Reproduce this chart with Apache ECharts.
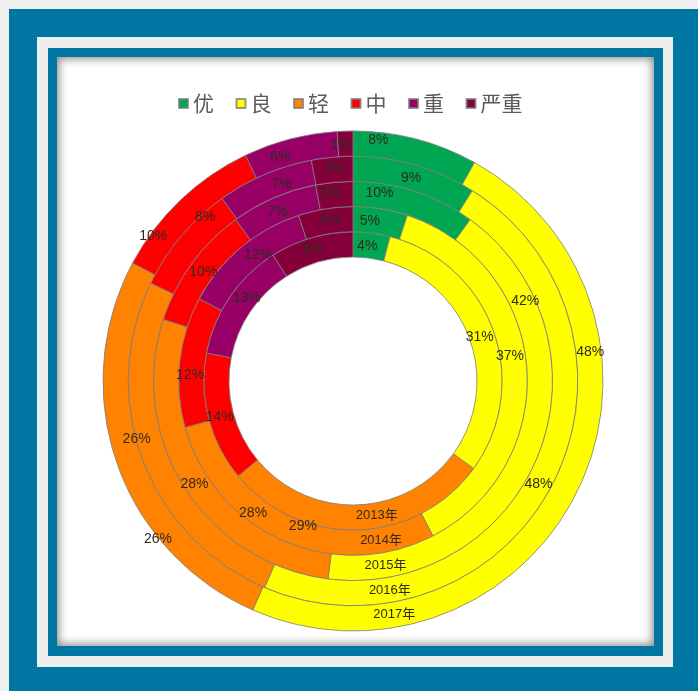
<!DOCTYPE html>
<html>
<head>
<meta charset="utf-8">
<script src="https://cdn.jsdelivr.net/npm/echarts@6/dist/echarts.min.js"></script>
<style>
  html, body { margin: 0; padding: 0; }
  body { width: 698px; height: 691px; background: #f0f0f0; position: relative; overflow: hidden; }
  .box { position: absolute; box-sizing: border-box; }
  #outer { left: 9px; top: 9px; right: 0; bottom: 0; background: #0076a3; }
  #strip { left: 37px; top: 37px; width: 636px; height: 630px; background: #eeeeee; }
  #inner { left: 48px; top: 48px; width: 615px; height: 608px; background: #0076a3; }
  #panel { left: 57px; top: 57px; width: 597px; height: 589px; background: #ffffff;
           box-shadow: inset 0 0 9px 2px rgba(0,0,0,0.45); }
  #chart { position: absolute; left: 0; top: 0; width: 698px; height: 691px; }
</style>
</head>
<body>
<div class="box" id="outer"></div>
<div class="box" id="strip"></div>
<div class="box" id="inner"></div>
<div class="box" id="panel"></div>
<div id="chart"></div>
<script>
// Air quality grade shares by year (percent of days)
const grades = ['优', '良', '轻', '中', '重', '严重'];
const years = ['2013年', '2014年', '2015年', '2016年', '2017年'];
const share2013 = [4, 31, 29, 14, 13, 9];
const share2014 = [5, 37, 28, 12, 12, 5];
const share2015 = [10, 42, 28, 10, 7, 3];
const share2016 = [9, 48, 26, 8, 7, 3];
const share2017 = [8, 48, 26, 10, 6, 1];
const gradeColors = ['#00a651', '#ffff00', '#ff8200', '#ff0000', '#990066', '#85003a'];

const shares = [share2013, share2014, share2015, share2016, share2017];

// ring geometry: 2013 innermost, 2017 outermost
const cx = 353, cy = 381;
const rInner = 124, ringW = 25.2;
const yearLabelAngle = 170; // degrees clockwise from 12 o'clock

// hand-placed value labels: [angle clockwise from 12 o'clock, distance from centre]
const labelPlacement = [
  [[6, 136], [71, 134], [199, 154], [255, 138], [308, 135], [343, 138]],
  [[6, 161], [81, 159], [217, 166], [272, 163], [323, 158], [352, 162]],
  [[8, 190], [65, 190], [237, 189], [306, 185], [336, 185], [353, 189]],
  [[16, 211], [119, 212], [255, 224], [318, 221], [340, 209], [355, 214]],
  [[6, 242], [83, 239], [231, 251], [306, 247], [342, 235], [357, 236]]
];

const chart = echarts.init(document.getElementById('chart'), null, { renderer: 'canvas' });

const series = shares.map((vals, i) => ({
  type: 'pie',
  name: years[i],
  center: [cx, cy],
  radius: [rInner + i * ringW, rInner + (i + 1) * ringW],
  startAngle: 90,
  clockwise: true,
  avoidLabelOverlap: false,
  animation: false,
  silent: true,
  label: { show: false },
  labelLine: { show: false },
  itemStyle: { borderColor: 'rgba(125,125,125,0.8)', borderWidth: 1 },
  data: grades.map((g, k) => ({ name: g, value: vals[k], itemStyle: { color: gradeColors[k] } }))
}));

function polar(angleDeg, r) {
  const a = angleDeg * Math.PI / 180;
  return [cx + r * Math.sin(a), cy - r * Math.cos(a)];
}

const textFont = 'Liberation Sans, Arial, sans-serif';
const graphics = [];

shares.forEach((vals, i) => {
  vals.forEach((v, k) => {
    const p = polar(labelPlacement[i][k][0], labelPlacement[i][k][1]);
    graphics.push({
      type: 'text', x: p[0], y: p[1], z: 100, silent: true,
      style: { text: v + '%', fill: '#2e2a1e', fontSize: 14, fontFamily: textFont,
               align: 'center', verticalAlign: 'middle' }
    });
  });
});

years.forEach((y, i) => {
  const p = polar(yearLabelAngle, rInner + (i + 0.5) * ringW);
  graphics.push({
    type: 'text', x: p[0], y: p[1], z: 100, silent: true,
    style: { text: y, fill: '#2e2a1e', fontSize: 13,
             fontFamily: 'Liberation Sans, Noto Sans CJK SC, sans-serif',
             align: 'center', verticalAlign: 'middle' }
  });
});

chart.setOption({
  backgroundColor: 'transparent',
  legend: {
    data: grades,
    top: 88,
    left: 173,
    icon: 'rect',
    itemWidth: 9,
    itemHeight: 9,
    itemGap: 21.5,
    itemTextGap: 10,
    selectedMode: false,
    textStyle: { color: '#5a5a5a', fontSize: 21, fontFamily: 'Noto Sans CJK SC, sans-serif' }
  },
  graphic: graphics,
  series: series
});
</script>
</body>
</html>
